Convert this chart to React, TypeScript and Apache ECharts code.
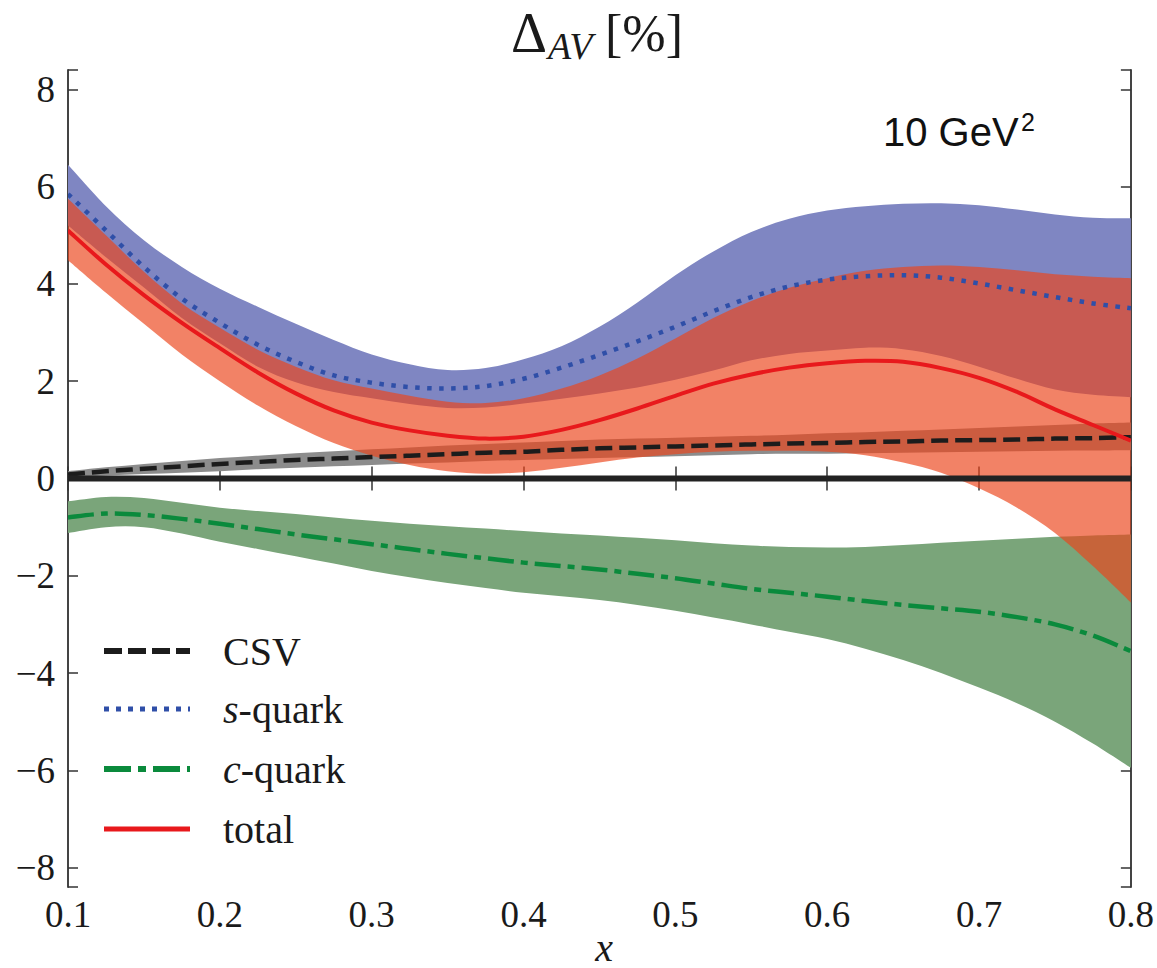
import React, { useEffect, useRef } from "react";
import * as echarts from "echarts";

// x sampling positions
const X = [0.1, 0.125, 0.15, 0.175, 0.2, 0.225, 0.25, 0.275, 0.3, 0.325, 0.35, 0.375, 0.4, 0.425, 0.45, 0.475, 0.5, 0.525, 0.55, 0.575, 0.6, 0.625, 0.65, 0.675, 0.7, 0.725, 0.75, 0.775, 0.8];

// CSV
const csv = [0.08, 0.15, 0.2, 0.25, 0.3, 0.34, 0.38, 0.41, 0.44, 0.47, 0.5, 0.53, 0.55, 0.59, 0.62, 0.64, 0.66, 0.68, 0.7, 0.72, 0.73, 0.75, 0.76, 0.78, 0.79, 0.8, 0.82, 0.83, 0.85];
const csvUp = [0.15, 0.23, 0.3, 0.36, 0.42, 0.47, 0.52, 0.56, 0.6, 0.64, 0.68, 0.71, 0.74, 0.77, 0.8, 0.82, 0.84, 0.86, 0.88, 0.9, 0.93, 0.95, 0.98, 1.01, 1.04, 1.07, 1.1, 1.13, 1.15];
const csvLo = [0.02, 0.06, 0.09, 0.12, 0.15, 0.19, 0.22, 0.25, 0.28, 0.31, 0.33, 0.36, 0.38, 0.4, 0.42, 0.44, 0.46, 0.48, 0.5, 0.51, 0.51, 0.52, 0.53, 0.54, 0.55, 0.56, 0.57, 0.575, 0.58];

// s-quark
const sq = [5.85, 5.1, 4.35, 3.7, 3.2, 2.75, 2.4, 2.12, 1.97, 1.88, 1.85, 1.9, 2.05, 2.28, 2.54, 2.82, 3.12, 3.44, 3.73, 3.95, 4.09, 4.16, 4.18, 4.13, 4.01, 3.87, 3.73, 3.6, 3.5];
const sqUp = [6.45, 5.6, 4.9, 4.35, 3.9, 3.53, 3.18, 2.85, 2.55, 2.35, 2.23, 2.27, 2.45, 2.72, 3.12, 3.62, 4.18, 4.67, 5.07, 5.34, 5.51, 5.6, 5.65, 5.66, 5.62, 5.53, 5.43, 5.36, 5.35];
const sqLo = [5.2, 4.55, 3.93, 3.3, 2.78, 2.3, 1.98, 1.78, 1.65, 1.53, 1.45, 1.46, 1.54, 1.64, 1.75, 1.87, 2.03, 2.22, 2.43, 2.56, 2.63, 2.69, 2.66, 2.52, 2.3, 2.05, 1.83, 1.72, 1.67];

// c-quark
const cq = [-0.8, -0.72, -0.75, -0.83, -0.93, -1.04, -1.15, -1.25, -1.35, -1.45, -1.55, -1.64, -1.73, -1.8, -1.87, -1.96, -2.05, -2.16, -2.27, -2.35, -2.43, -2.52, -2.6, -2.67, -2.74, -2.85, -3.0, -3.23, -3.55];
const cqUp = [-0.47, -0.38, -0.4, -0.5, -0.6, -0.67, -0.73, -0.8, -0.87, -0.93, -0.98, -1.03, -1.08, -1.13, -1.17, -1.22, -1.27, -1.33, -1.38, -1.41, -1.42, -1.41, -1.37, -1.32, -1.28, -1.24, -1.2, -1.17, -1.15];
const cqLo = [-1.12, -1.0, -1.0, -1.13, -1.3, -1.45, -1.6, -1.75, -1.9, -2.03, -2.15, -2.25, -2.35, -2.42, -2.5, -2.6, -2.72, -2.86, -3.0, -3.15, -3.3, -3.5, -3.73, -4.0, -4.3, -4.62, -5.0, -5.45, -5.95];

// total
const tot = [5.1, 4.4, 3.77, 3.2, 2.68, 2.18, 1.75, 1.4, 1.15, 0.99, 0.88, 0.82, 0.86, 1.0, 1.2, 1.44, 1.7, 1.95, 2.14, 2.28, 2.37, 2.42, 2.4, 2.27, 2.07, 1.78, 1.42, 1.1, 0.78];
const totUp = [5.75, 5.0, 4.25, 3.6, 3.1, 2.65, 2.3, 2.02, 1.85, 1.7, 1.58, 1.55, 1.65, 1.85, 2.12, 2.47, 2.88, 3.3, 3.65, 3.92, 4.12, 4.27, 4.35, 4.38, 4.35, 4.28, 4.2, 4.15, 4.12];
const totLo = [4.49, 3.82, 3.18, 2.55, 2.0, 1.5, 1.08, 0.73, 0.47, 0.28, 0.15, 0.1, 0.13, 0.22, 0.33, 0.43, 0.5, 0.55, 0.57, 0.57, 0.55, 0.48, 0.33, 0.12, -0.2, -0.6, -1.12, -1.8, -2.55];

const xTicks = [0.1, 0.2, 0.3, 0.4, 0.5, 0.6, 0.7, 0.8];
const yTicks = [-8, -6, -4, -2, 0, 2, 4, 6, 8];

const SERIF = "Liberation Serif";
const SANS = "Liberation Sans";

// Catmull-Rom spline through pixel points, as cubic bezier path segments
function splineSegs(P: number[][]): string {
  let d = "";
  const n = P.length;
  for (let i = 0; i < n - 1; i++) {
    const p0 = P[Math.max(0, i - 1)];
    const p1 = P[i];
    const p2 = P[i + 1];
    const p3 = P[Math.min(n - 1, i + 2)];
    const c1x = p1[0] + (p2[0] - p0[0]) / 6;
    const c1y = p1[1] + (p2[1] - p0[1]) / 6;
    const c2x = p2[0] - (p3[0] - p1[0]) / 6;
    const c2y = p2[1] - (p3[1] - p1[1]) / 6;
    d += ` C ${c1x} ${c1y} ${c2x} ${c2y} ${p2[0]} ${p2[1]}`;
  }
  return d;
}

function band(id: string, lo: number[], up: number[], color: string): any {
  return {
    type: "custom",
    id,
    coordinateSystem: "cartesian2d",
    data: [[X[0], lo[0]]],
    silent: true,
    clip: true,
    renderItem: (_params: any, api: any) => {
      const U = X.map((x, i) => api.coord([x, up[i]]));
      const L = X.map((x, i) => api.coord([x, lo[i]])).reverse();
      const d =
        `M ${U[0][0]} ${U[0][1]}` +
        splineSegs(U) +
        ` L ${L[0][0]} ${L[0][1]}` +
        splineSegs(L) +
        " Z";
      return { type: "path", shape: { pathData: d }, style: { fill: color, stroke: "none" } };
    },
  };
}

function curve(id: string, ys: number[], color: string, dash: number[] | null, width: number): any {
  return {
    type: "custom",
    id,
    name: id,
    coordinateSystem: "cartesian2d",
    data: [[X[0], ys[0]]],
    silent: true,
    clip: true,
    renderItem: (_params: any, api: any) => {
      const P = X.map((x, i) => api.coord([x, ys[i]]));
      const d = `M ${P[0][0]} ${P[0][1]}` + splineSegs(P);
      return {
        type: "path",
        shape: { pathData: d },
        style: { fill: "none", stroke: color, lineWidth: width, lineDash: dash || undefined, lineCap: "butt" },
      };
    },
  };
}

const BLUE_BAND = "#7f86c2";
const GREEN_BAND = "#7aa57a";
const GREY_BAND = "#8c8c8c";
const RED_BAND = "rgba(236,69,27,0.67)";

const CSV_COLOR = "#1c1c1c";
const S_COLOR = "#2f4fa8";
const C_COLOR = "#0a8a3c";
const T_COLOR = "#e8191c";

const CSV_DASH = [17, 7];
const S_DASH = [4.5, 7.5];
const C_DASH = [26, 7, 7, 7];

function fmtY(v: number) {
  if (Math.abs(v - Math.round(v)) > 1e-6) return "";
  const r = Math.round(v);
  if (!yTicks.includes(r)) return "";
  return r < 0 ? "\u2212" + Math.abs(r) : String(r);
}

const legendItems = [
  { label: "CSV", color: CSV_COLOR, dash: [18, 6], width: 6, y: 651 },
  { label: "{i|s}-quark", color: S_COLOR, dash: [5, 7], width: 5, y: 709 },
  { label: "{i|c}-quark", color: C_COLOR, dash: [27, 7, 8, 7], width: 6, y: 769 },
  { label: "total", color: T_COLOR, dash: null as any, width: 5, y: 829 },
];

export default function App() {
  const ref = useRef<HTMLDivElement>(null);
  useEffect(() => {
    if (!ref.current) return;
    const chart = echarts.init(ref.current, undefined, { renderer: "svg" });

    const axisLine = { show: true, lineStyle: { color: "#444", width: 2 } };
    const axisTick = { show: true, inside: true, length: 12, lineStyle: { color: "#333", width: 1.5 } };

    const graphics: any[] = [
      { type: "text", x: 511, y: 33, style: { text: "\u0394", fontFamily: SERIF, fontSize: 56, fill: "#1a1a1a", textVerticalAlign: "middle" } },
      { type: "text", x: 548, y: 46, style: { text: "AV", fontFamily: SERIF, fontStyle: "italic", fontSize: 38, fill: "#1a1a1a", textVerticalAlign: "middle" } },
      { type: "text", x: 605, y: 33, style: { text: "[%]", fontFamily: SERIF, fontSize: 52, fill: "#1a1a1a", textVerticalAlign: "middle" } },
      { type: "text", x: 883, y: 132, style: { text: "10 GeV", fontFamily: SANS, fontSize: 40, fill: "#111", textVerticalAlign: "middle" } },
      { type: "text", x: 1021, y: 122, style: { text: "2", fontFamily: SANS, fontSize: 25, fill: "#111", textVerticalAlign: "middle" } },
      { type: "text", x: 604, y: 947, style: { text: "x", fontFamily: SERIF, fontStyle: "italic", fontSize: 40, fill: "#1a1a1a", textAlign: "center", textVerticalAlign: "middle" } },
    ];
    legendItems.forEach((it) => {
      graphics.push({
        type: "line",
        shape: { x1: 104, y1: it.y, x2: 190, y2: it.y },
        style: { stroke: it.color, lineWidth: it.width, lineDash: it.dash || undefined, lineCap: "butt" },
      });
      graphics.push({
        type: "text",
        x: 223,
        y: it.y,
        style: {
          text: it.label,
          fontFamily: SERIF,
          fontSize: 40,
          fill: "#1a1a1a",
          textVerticalAlign: "middle",
          rich: { i: { fontStyle: "italic", fontSize: 40, fontFamily: SERIF, fill: "#1a1a1a" } },
        },
      });
    });

    const option: any = {
      animation: false,
      backgroundColor: "#ffffff",
      grid: { left: 68, right: 22, top: 70, bottom: 81, containLabel: false },
      xAxis: [
        {
          type: "value",
          min: 0.1,
          max: 0.8,
          interval: 0.1,
          position: "bottom",
          axisLine,
          axisTick,
          splitLine: { show: false },
          axisLabel: {
            margin: 9,
            fontFamily: SERIF,
            fontSize: 37,
            color: "#1a1a1a",
            formatter: (v: number) => (xTicks.some((t) => Math.abs(t - v) < 1e-6) ? v.toFixed(1) : ""),
          },
        },
        {
          type: "value",
          min: 0.1,
          max: 0.8,
          interval: 0.1,
          position: "top",
          axisLine,
          axisTick,
          splitLine: { show: false },
          axisLabel: { show: false },
        },
      ],
      yAxis: [
        {
          type: "value",
          min: -8.4,
          max: 8.4,
          splitNumber: 8,
          position: "left",
          axisLine,
          axisTick: { ...axisTick, length: 10 },
          splitLine: { show: false },
          axisLabel: { margin: 13, fontFamily: SERIF, fontSize: 37, color: "#1a1a1a", formatter: fmtY, showMinLabel: true, showMaxLabel: true },
        },
        {
          type: "value",
          min: -8.4,
          max: 8.4,
          splitNumber: 8,
          position: "right",
          axisLine,
          axisTick: { ...axisTick, length: 10 },
          splitLine: { show: false },
          axisLabel: { show: false },
        },
      ],
      series: [
        band("sband", sqLo, sqUp, BLUE_BAND),
        band("cband", cqLo, cqUp, GREEN_BAND),
        band("csvband", csvLo, csvUp, GREY_BAND),
        band("tband", totLo, totUp, RED_BAND),
        {
          type: "line",
          id: "zero",
          data: [[0.1, 0], [0.8, 0]],
          symbol: "none",
          lineStyle: { color: "#222", width: 6 },
          silent: true,
          emphasis: { disabled: true },
        },
        curve("CSV", csv, CSV_COLOR, CSV_DASH, 4.5),
        curve("s-quark", sq, S_COLOR, S_DASH, 4.5),
        curve("c-quark", cq, C_COLOR, C_DASH, 4.5),
        curve("total", tot, T_COLOR, null, 4),
      ],
      graphic: graphics,
    };
    chart.setOption(option);
    return () => chart.dispose();
  }, []);
  return <div ref={ref} style={{ position: "absolute", left: 0, top: 0, width: 1157, height: 968 }} />;
}
